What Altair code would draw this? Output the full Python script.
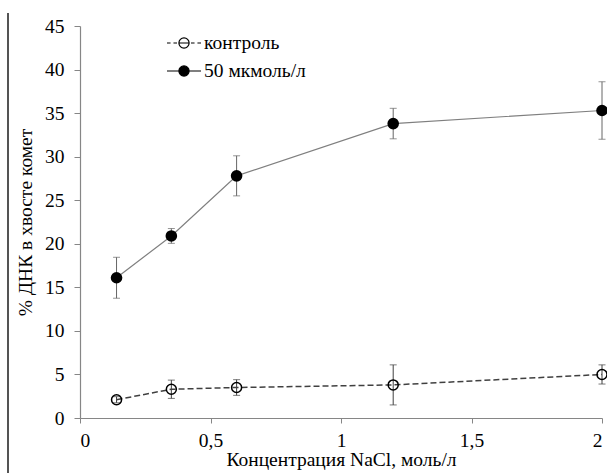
import altair as alt
import pandas as pd

# ---- data ----
conc = [0.14, 0.35, 0.6, 1.2, 2.0]
control = [2.1, 3.3, 3.5, 3.8, 5.0]
control_err = [0.35, 1.05, 0.9, 2.3, 1.1]
treated = [16.1, 20.9, 27.8, 33.8, 35.3]
treated_err = [2.35, 0.85, 2.3, 1.75, 3.3]
series_names = ["контроль", "50 мкмоль/л"]
x_ticks = [0, 0.5, 1, 1.5, 2]
y_ticks = [0, 5, 10, 15, 20, 25, 30, 35, 40, 45]

rows = []
for name, vals, errs in [(series_names[0], control, control_err),
                         (series_names[1], treated, treated_err)]:
    for c, v, e in zip(conc, vals, errs):
        rows.append({"series": name, "conc": c, "val": v, "lo": v - e, "hi": v + e})
df = pd.DataFrame(rows)

FONT = "Liberation Serif"
FS = 19.5
AX = "#868686"

x_axis = alt.Axis(values=x_ticks, labelExpr="replace(format(datum.value, '~g'), '.', ',')",
                  title="Концентрация NaCl, моль/л", grid=False, tickSize=5,
                  labelPadding=8, titlePadding=1,
                  labelFont=FONT, titleFont=FONT)
y_axis = alt.Axis(values=y_ticks, title="% ДНК в хвосте комет", grid=False,
                  tickSize=6, labelPadding=10, titlePadding=9,
                  labelFont=FONT, titleFont=FONT, titleFontWeight="normal")
xs = alt.Scale(domain=[0, 2], nice=False)
ys = alt.Scale(domain=[0, 45], nice=False)

ctrl = alt.Chart(df).transform_filter(alt.datum.series == series_names[0])
trt = alt.Chart(df).transform_filter(alt.datum.series == series_names[1])

def X():
    return alt.X("conc:Q", scale=xs, axis=x_axis)

def Y(f):
    return alt.Y(f, scale=ys, axis=y_axis)

ctrl_line = ctrl.mark_line(color="#404040", strokeWidth=1.5, strokeDash=[6, 3]).encode(x=X(), y=Y("val:Q"))
trt_line = trt.mark_line(color="#7f7f7f", strokeWidth=1.2).encode(x=X(), y=Y("val:Q"))

ctrl_rule = ctrl.mark_rule(color="#404040", strokeWidth=1).encode(x=X(), y=Y("lo:Q"), y2="hi:Q")
ctrl_cap_lo = ctrl.mark_tick(color="#404040", orient="horizontal", size=7, thickness=1).encode(x=X(), y=Y("lo:Q"))
ctrl_cap_hi = ctrl.mark_tick(color="#404040", orient="horizontal", size=7, thickness=1).encode(x=X(), y=Y("hi:Q"))
trt_rule = trt.mark_rule(color="#666666", strokeWidth=1).encode(x=X(), y=Y("lo:Q"), y2="hi:Q")
trt_cap_lo = trt.mark_tick(color="#666666", orient="horizontal", size=7, thickness=1).encode(x=X(), y=Y("lo:Q"))
trt_cap_hi = trt.mark_tick(color="#666666", orient="horizontal", size=7, thickness=1).encode(x=X(), y=Y("hi:Q"))

ctrl_pts = ctrl.mark_point(shape="circle", filled=False, color="black", strokeWidth=1.5,
                           size=100, opacity=1).encode(x=X(), y=Y("val:Q"))
trt_pts = trt.mark_point(shape="circle", filled=True, color="black", size=135,
                         opacity=1).encode(x=X(), y=Y("val:Q"))

# legend symbols: line + circle drawn as one custom path (unit = half symbol width)
path_ctrl = ("M-1,0H-0.79M-0.62,0H-0.41M-0.3,0H0.3M0.41,0H0.62M0.79,0H1"
             "M-0.3,0A0.3,0.3 0 1,1 0.3,0A0.3,0.3 0 1,1 -0.3,0Z")
path_trt = ("M-1,0H-0.3M0.3,0H1"
            "M-0.3,0A0.3,0.3 0 1,1 0.3,0A0.3,0.3 0 1,1 -0.3,0Z")
leg = alt.Legend(orient="none", legendX=86, legendY=-1, title=None,
                 labelFont=FONT, labelFontSize=FS, labelColor="black",
                 symbolSize=1156, symbolStrokeColor="black", symbolStrokeWidth=1.2,
                 labelOffset=2, rowPadding=-5, padding=0)
legend_layer = alt.Chart(df).transform_filter("false").mark_point(
    filled=False, strokeWidth=1.2, opacity=1).encode(
    shape=alt.Shape("series:N", scale=alt.Scale(domain=series_names, range=[path_ctrl, path_trt]), legend=leg),
    fill=alt.Fill("series:N", scale=alt.Scale(domain=series_names, range=["transparent", "black"]), legend=leg),
    stroke=alt.Stroke("series:N", scale=alt.Scale(domain=series_names, range=["black", "black"]), legend=leg),
)

border = alt.Chart(df).mark_rule(color="#555555", strokeWidth=1.5).encode(
    x=alt.value(-72), y=alt.value(-13), y2=alt.value(447))

chart = alt.layer(
    border, ctrl_line, trt_line,
    ctrl_rule, ctrl_cap_lo, ctrl_cap_hi,
    trt_rule, trt_cap_lo, trt_cap_hi,
    ctrl_pts, trt_pts, legend_layer,
).properties(
    width=522, height=392,
    autosize=alt.AutoSizeParams(type="none"),
    padding={"left": 80, "top": 26, "right": 5, "bottom": 55},
).configure(
    font=FONT,
).configure_axis(
    labelFont=FONT, labelFontSize=FS, labelColor="black",
    titleFont=FONT, titleFontSize=FS, titleFontWeight="normal", titleColor="black",
    domainColor=AX, tickColor=AX, domainWidth=1.2,
).configure_legend(
    labelFont=FONT,
).configure_view(stroke=None)

chart.save("out.html", embed_options={"renderer": "svg", "actions": False})
